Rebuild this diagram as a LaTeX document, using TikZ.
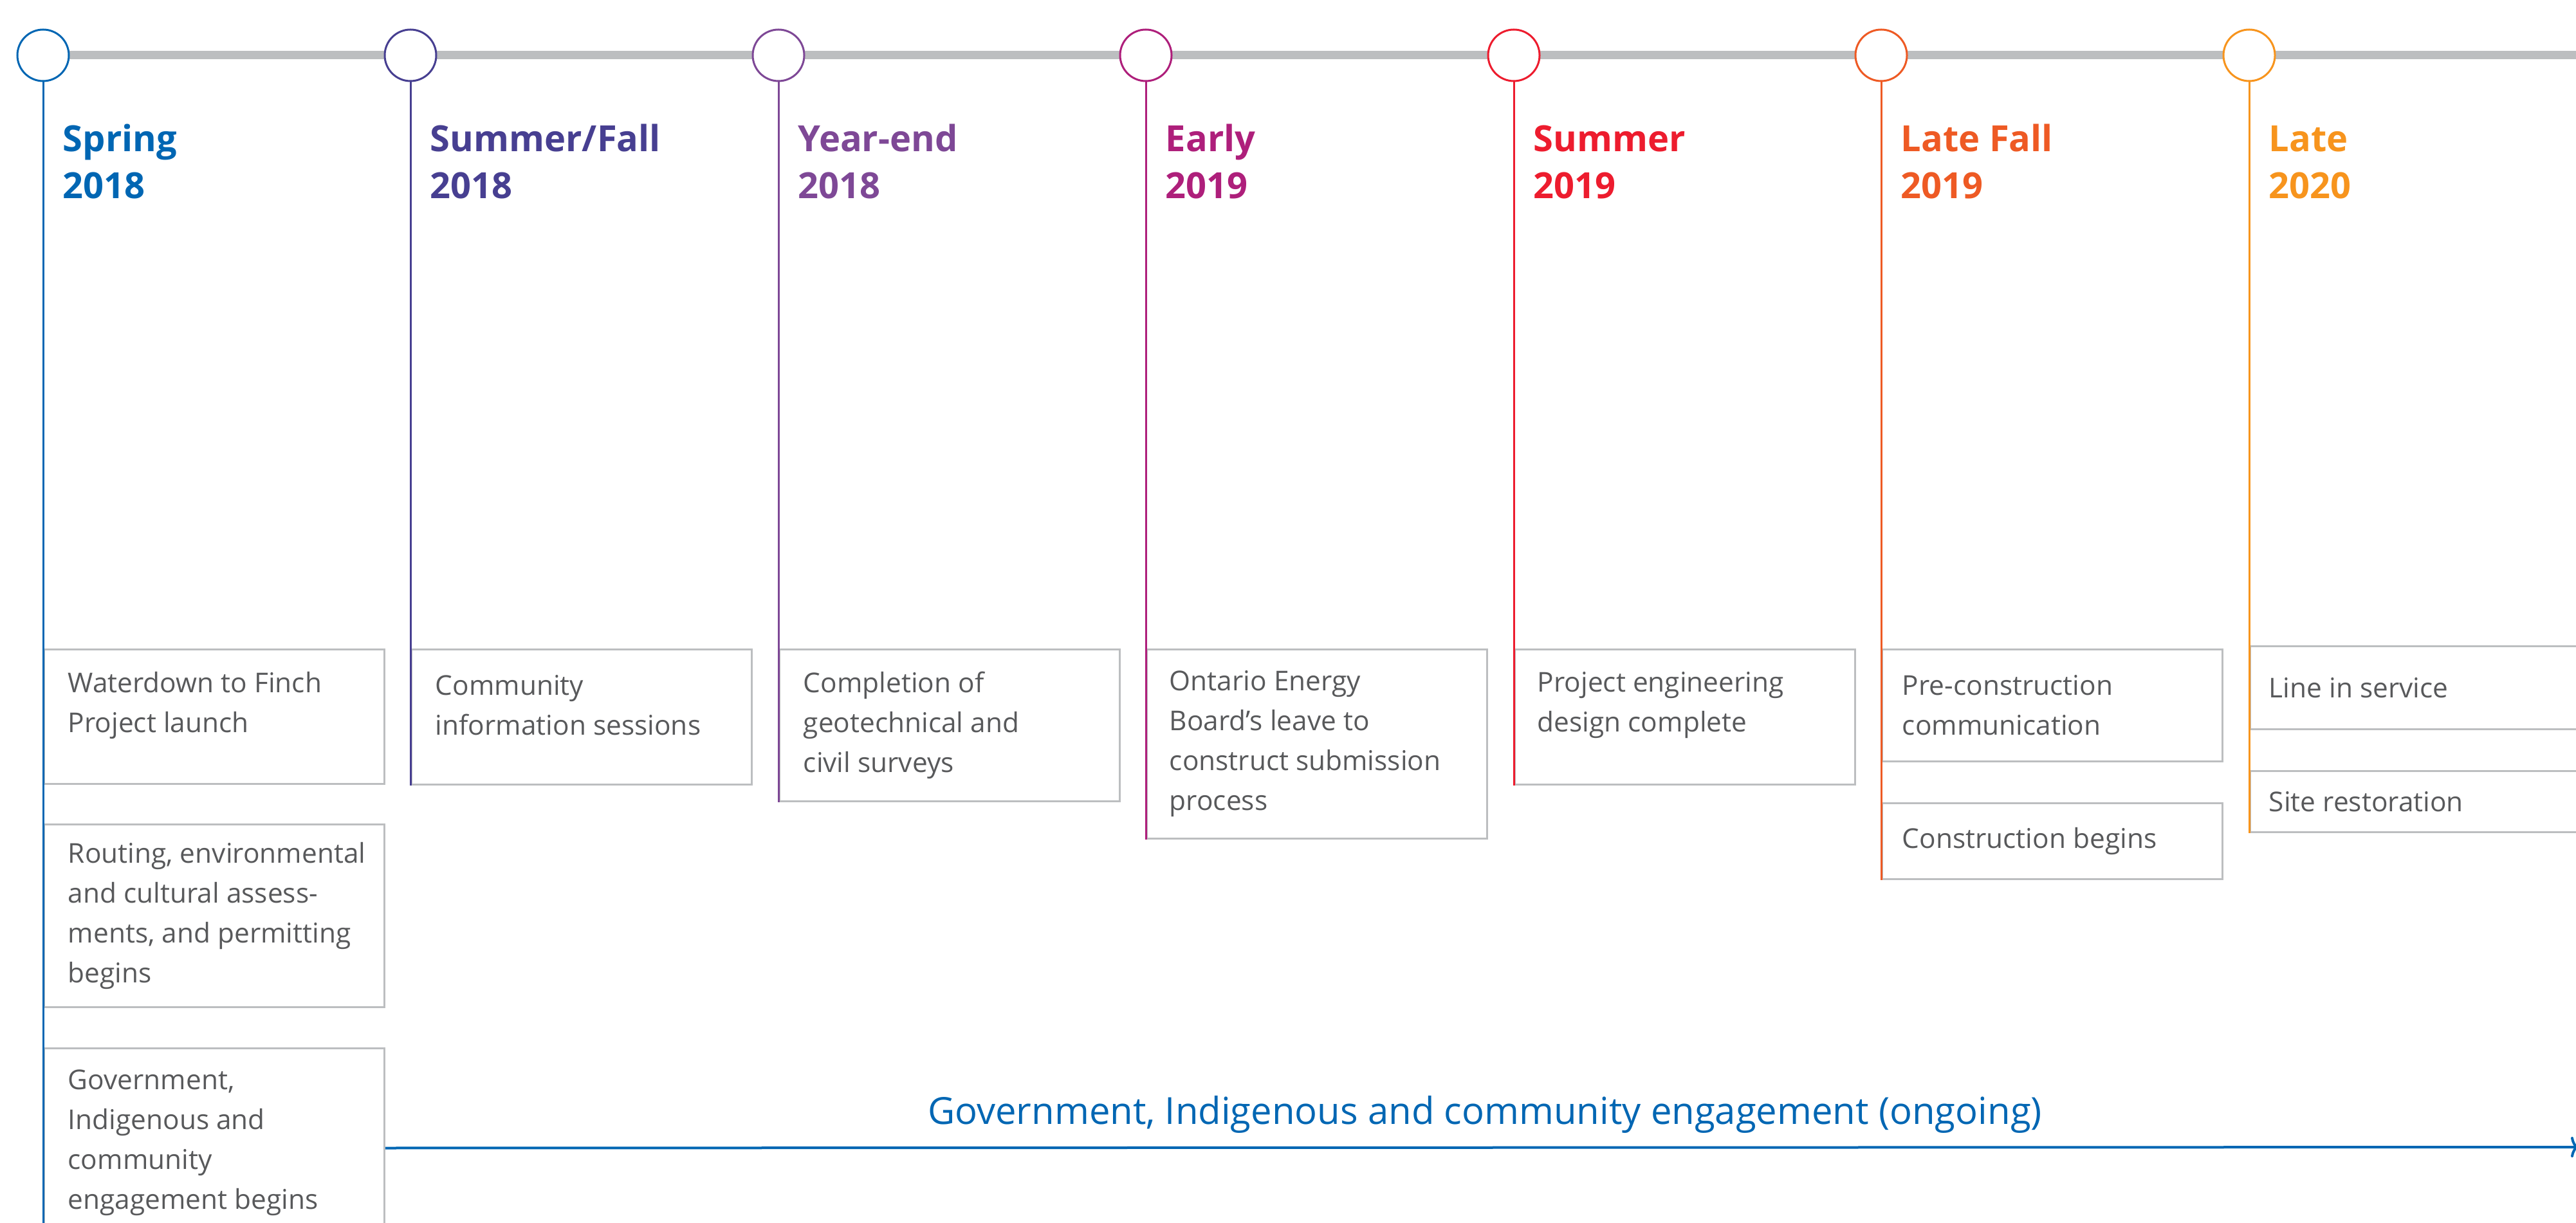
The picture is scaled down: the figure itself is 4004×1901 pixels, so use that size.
\documentclass[tikz,border=0pt]{standalone}
\usepackage{fontspec}
\setmainfont{Open Sans}
\usetikzlibrary{arrows.meta}

\definecolor{tlgray}{HTML}{BCBEC0}
\definecolor{txtgray}{HTML}{58595B}
\definecolor{cSpring}{HTML}{0066B3}
\definecolor{cSumFall}{HTML}{473F91}
\definecolor{cYearEnd}{HTML}{7E4896}
\definecolor{cEarly}{HTML}{AE1F7B}
\definecolor{cSummer}{HTML}{ED1C2E}
\definecolor{cLateFall}{HTML}{EE5A24}
\definecolor{cLate}{HTML}{F7941D}

\tikzset{
  milestone/.style={circle, draw=#1, fill=white, line width=0.75pt, minimum size=20pt, inner sep=0pt},
  season/.style={anchor=base west, inner sep=0pt, text=#1, font=\fontsize{14}{18}\selectfont\bfseries},
  evbox/.style={draw=tlgray, line width=0.75pt, anchor=north west, minimum width=132.25pt, inner sep=0pt},
  evtext/.style={anchor=west, align=left, inner sep=0pt, text=txtgray, font=\fontsize{10.6}{15.5}\selectfont},
  stem/.style={draw=#1, line width=0.75pt},
}

\begin{document}
\begin{tikzpicture}[x=0.25pt, y=-0.25pt]
    \useasboundingbox (0,0) rectangle (4004,1901);

    % timeline bar
    \coordinate (barEnd) at (4010,86);
    \draw[tlgray, line width=3.25pt] (67,86) -- (barEnd);

    % milestones and dates
    \foreach \i/\cx/\col/\season/\yr in {1/67/cSpring/Spring/2018, 2/638/cSumFall/{Summer/Fall}/2018,
        3/1210/cYearEnd/Year-end/2018, 4/1781/cEarly/Early/2019, 5/2353/cSummer/Summer/2019,
        6/2924/cLateFall/Late Fall/2019, 7/3496/cLate/Late/2020} {
      \node[milestone=\col] (m\i) at (\cx,86) {};
      \node[season=\col] (s\i) at (\cx+30,236) {\season};
      \node[season=\col] (y\i) at (\cx+30,309) {\yr};
    }

    % event boxes
    \node[evbox, minimum height=52.25pt] (b1a) at (67,1008) {};
    \node[evbox, minimum height=71pt] (b1b) at (67,1280) {};
    \node[evbox, minimum height=77.5pt] (b1c) at (67,1628) {};
    \node[evbox, minimum height=52.5pt] (b2) at (638,1008) {};
    \node[evbox, minimum height=59pt] (b3) at (1210,1008) {};
    \node[evbox, minimum height=73.5pt] (b4) at (1781,1008) {};
    \node[evbox, minimum height=52.5pt] (b5) at (2353,1008) {};
    \node[evbox, minimum height=43.5pt] (b6a) at (2924,1008) {};
    \node[evbox, minimum height=29.5pt] (b6b) at (2924,1247) {};
    \node[evbox, minimum height=32.25pt, minimum width=140pt] (b7a) at (3496,1003) {};
    \node[evbox, minimum height=23.75pt, minimum width=140pt] (b7b) at (3496,1197) {};

    \node[evtext] (t1a) at ([xshift=9.5pt, yshift=4.5pt]b1a.west) {Waterdown to Finch\\Project launch};
    \node[evtext] (t1b) at ([xshift=9.5pt]b1b.west) {Routing, environmental\\and cultural assess-\\ments, and permitting\\begins};
    \node[evtext] (t1c) at ([xshift=9.5pt, yshift=2pt]b1c.west) {Government,\\Indigenous and\\community\\engagement begins};
    \node[evtext] (t2) at ([xshift=9.5pt, yshift=4.5pt]b2.west) {Community\\information sessions};
    \node[evtext] (t3) at ([xshift=9.5pt]b3.west) {Completion of\\geotechnical and\\civil surveys};
    \node[evtext] (t4) at ([xshift=9pt]b4.west) {Ontario Energy\\Board’s leave to\\construct submission\\process};
    \node[evtext] (t5) at ([xshift=9pt, yshift=4.5pt]b5.west) {Project engineering\\design complete};
    \node[evtext] (t6a) at ([xshift=8pt]b6a.west) {Pre-construction\\communication};
    \node[evtext] (t6b) at ([xshift=8pt]b6b.west) {Construction begins};
    \node[evtext] (t7a) at ([xshift=7.5pt]b7a.west) {Line in service};
    \node[evtext] (t7b) at ([xshift=7.5pt]b7b.west) {Site restoration};

    % stems
    \draw[stem=cSpring] (m1.south) -- (b1c.south west);
    \draw[stem=cSumFall] (m2.south) -- (b2.south west);
    \draw[stem=cYearEnd] (m3.south) -- (b3.south west);
    \draw[stem=cEarly] (m4.south) -- (b4.south west);
    \draw[stem=cSummer] (m5.south) -- (b5.south west);
    \draw[stem=cLateFall] (m6.south) -- (b6b.south west);
    \draw[stem=cLate] (m7.south) -- (b7b.south west);

    % ongoing engagement
    \coordinate (engEnd) at (4008,1783);
    \draw[cSpring, line width=1pt, -{To[length=3pt,width=8pt]}] (b1c.east) -- (engEnd);
    \node[anchor=base, inner sep=0pt, text=cSpring, font=\fontsize{14.5}{17}\selectfont] (ongoing) at (2308,1747)
      {Government, Indigenous and community engagement (ongoing)};
\end{tikzpicture}
\end{document}
